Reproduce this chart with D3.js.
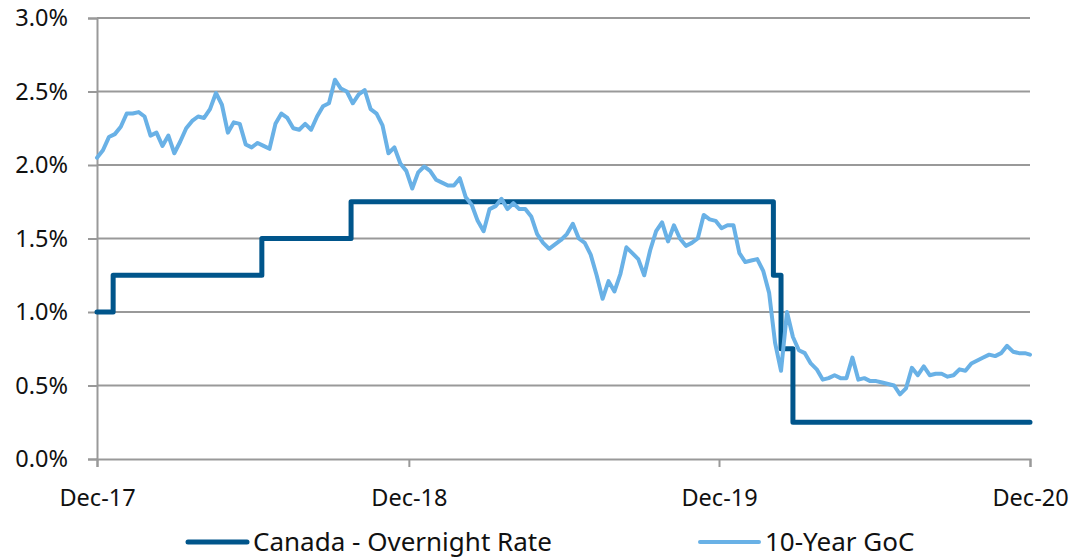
<!DOCTYPE html>
<html>
<head>
<meta charset="utf-8">
<script src="https://cdn.jsdelivr.net/npm/d3@7"></script>
<style>
  body { margin: 0; background: #fff; }
  text { font-family: "Noto Sans", "Open Sans", sans-serif; fill: #111; }
</style>
</head>
<body>
<div id="root"></div>
<script>
// overnight rate: dates of each change and the new level (%)
var overnightDates = ['2017-12-29', '2018-01-17', '2018-07-11', '2018-10-24', '2020-03-04', '2020-03-13', '2020-03-27', '2020-12-31']
var overnightRates = [1.00, 1.25, 1.50, 1.75, 1.25, 0.75, 0.25, 0.25]

// 10-year GoC yield (%), weekly from 2017-12-29, last point 2020-12-31
var gocYields = [2.05, 2.10, 2.19, 2.21, 2.26, 2.35, 2.35, 2.36, 2.33, 2.20,
    2.22, 2.13, 2.20, 2.08, 2.16, 2.25, 2.30, 2.33, 2.32, 2.38,
    2.49, 2.41, 2.22, 2.29, 2.28, 2.14, 2.12, 2.15, 2.13, 2.11,
    2.28, 2.35, 2.32, 2.25, 2.24, 2.28, 2.24, 2.33, 2.40, 2.42,
    2.58, 2.52, 2.50, 2.42, 2.48, 2.51, 2.38, 2.35, 2.27, 2.08,
    2.12, 2.01, 1.96, 1.84, 1.95, 1.99, 1.96, 1.90, 1.88, 1.86,
    1.86, 1.91, 1.78, 1.73, 1.62, 1.55, 1.70, 1.72, 1.77, 1.70,
    1.74, 1.70, 1.70, 1.65, 1.53, 1.47, 1.43, 1.46, 1.49, 1.53,
    1.60, 1.50, 1.47, 1.39, 1.25, 1.09, 1.21, 1.14, 1.26, 1.44,
    1.40, 1.36, 1.25, 1.42, 1.55, 1.61, 1.48, 1.59, 1.50, 1.45,
    1.47, 1.50, 1.66, 1.63, 1.62, 1.57, 1.59, 1.59, 1.40, 1.34,
    1.35, 1.36, 1.28, 1.13, 0.79, 0.60, 1.00, 0.83, 0.74, 0.72,
    0.65, 0.61, 0.54, 0.55, 0.57, 0.55, 0.55, 0.69, 0.54, 0.55,
    0.53, 0.53, 0.52, 0.51, 0.50, 0.44, 0.48, 0.62, 0.57, 0.63,
    0.57, 0.58, 0.58, 0.56, 0.57, 0.61, 0.60, 0.65, 0.67, 0.69,
    0.71, 0.70, 0.72, 0.77, 0.73, 0.72, 0.72, 0.71]

var xTickDates = ['2017-12-29', '2018-12-31', '2019-12-31', '2020-12-31']
var xTickLabels = ['Dec-17', 'Dec-18', 'Dec-19', 'Dec-20']
var yTicks = [0, 0.5, 1.0, 1.5, 2.0, 2.5, 3.0]
var seriesNames = ['Canada - Overnight Rate', '10-Year GoC']
var seriesColors = ['#00558b', '#69b1e6']

var width = 1079
var height = 560
var margin = { top: 18, right: 49, bottom: 101, left: 97 }
var parse = d3.timeParse('%Y-%m-%d')

var startDate = parse('2017-12-29')
var endDate = parse('2020-12-31')

var overnight = overnightDates.map(function (d, i) { return { date: parse(d), value: overnightRates[i] } })
var goc = gocYields.map(function (v, i) {
    var d = d3.timeDay.offset(startDate, i * 7)
    if (d > endDate) d = endDate
    return { date: d, value: v }
})

var svg = d3.select('#root').append('svg')
    .attr('width', width)
    .attr('height', height)

var x = d3.scaleTime()
    .domain([startDate, endDate])
    .range([margin.left, width - margin.right])
var y = d3.scaleLinear()
    .domain([0, 3])
    .range([height - margin.bottom, margin.top])

// gridlines
svg.append('g')
    .selectAll('line')
    .data(yTicks.slice(1))
    .enter()
    .append('line')
    .attr('x1', margin.left)
    .attr('x2', width - margin.right)
    .attr('y1', function (d) { return y(d) })
    .attr('y2', function (d) { return y(d) })
    .attr('stroke', '#999')
    .attr('stroke-width', 2)

// y axis
var yAxis = svg.append('g')
    .attr('transform', 'translate(' + margin.left + ',0)')
    .call(d3.axisLeft(y).tickValues(yTicks).tickSize(9).tickPadding(20)
        .tickFormat(function (d) { return d3.format('.1f')(d) + '%' }))
yAxis.select('.domain').attr('stroke', '#999').attr('stroke-width', 2)
yAxis.selectAll('.tick line').attr('stroke', '#999').attr('stroke-width', 2)
yAxis.selectAll('text').style('font-size', '23.5px').attr('fill', '#111')

// x axis
var xAxis = svg.append('g')
    .attr('transform', 'translate(0,' + y(0) + ')')
    .call(d3.axisBottom(x).tickValues(xTickDates.map(parse)).tickSize(8).tickPadding(22)
        .tickFormat(function (d, i) { return xTickLabels[i] }))
xAxis.select('.domain').attr('stroke', '#999').attr('stroke-width', 2)
xAxis.selectAll('.tick line').attr('stroke', '#999').attr('stroke-width', 2)
xAxis.selectAll('text').style('font-size', '23.5px').attr('fill', '#111')

// lines
var stepLine = d3.line()
    .x(function (d) { return x(d.date) })
    .y(function (d) { return y(d.value) })
    .curve(d3.curveStepAfter)
var line = d3.line()
    .x(function (d) { return x(d.date) })
    .y(function (d) { return y(d.value) })

svg.append('path')
    .datum(overnight)
    .attr('fill', 'none')
    .attr('stroke', seriesColors[0])
    .attr('stroke-width', 5)
    .attr('stroke-linejoin', 'round')
    .attr('stroke-linecap', 'round')
    .attr('d', stepLine)

svg.append('path')
    .datum(goc)
    .attr('fill', 'none')
    .attr('stroke', seriesColors[1])
    .attr('stroke-width', 4)
    .attr('stroke-linejoin', 'round')
    .attr('stroke-linecap', 'round')
    .attr('d', line)

// legend
var legendX = [188, 700]
var legend = svg.append('g')
    .selectAll('g')
    .data(seriesNames)
    .enter()
    .append('g')
    .attr('transform', function (d, i) { return 'translate(' + legendX[i] + ',542)' })
legend.append('line')
    .attr('x1', 0)
    .attr('x2', 59)
    .attr('stroke', function (d, i) { return seriesColors[i] })
    .attr('stroke-width', function (d, i) { return i == 0 ? 5 : 4 })
    .attr('stroke-linecap', 'round')
legend.append('text')
    .attr('x', 65)
    .attr('y', 9)
    .style('font-size', '26px')
    .text(function (d) { return d })
</script>
</body>
</html>
